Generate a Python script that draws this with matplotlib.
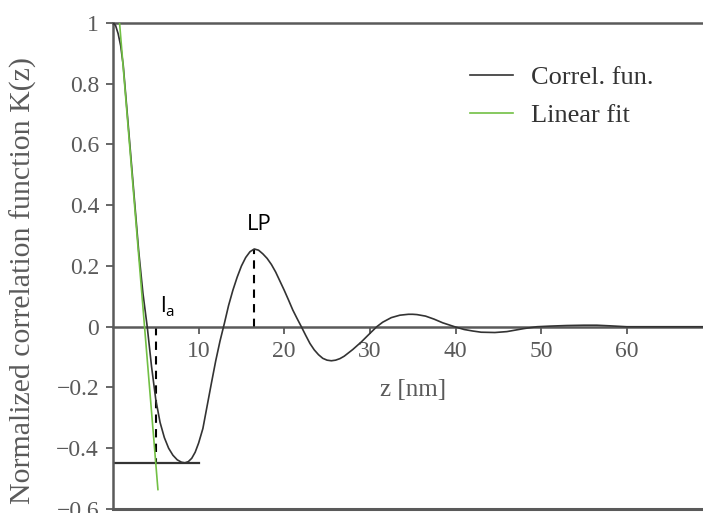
import matplotlib.pyplot as plt

# Normalized correlation function K(z)
z_corr = [0, 0.3, 0.6, 0.9, 1.2, 1.6, 2.0, 2.5, 3.0, 3.5, 4.0, 4.5, 5.0, 5.5,
          6.0, 6.5, 7.0, 7.5, 8.0, 8.4, 8.8, 9.2, 9.6, 10.0, 10.5, 11.0, 11.5,
          12.0, 12.5, 13.0, 13.5, 14.0, 14.5, 15.0, 15.5, 16.0, 16.5, 17.0,
          17.5, 18.0, 18.5, 19.0, 19.5, 20.0, 20.5, 21.0, 21.5, 22.0, 22.5,
          23.0, 23.5, 24.0, 24.5, 25.0, 25.5, 26.0, 26.5, 27.0, 28.0, 29.0,
          30.0, 30.8, 31.5, 32.5, 33.5, 34.5, 35.0, 35.5, 36.5, 37.5, 38.5,
          39.9, 41.0, 42.0, 43.0, 44.6, 46.0, 47.0, 48.0, 49.5, 51.0, 53.0,
          55.0, 56.5, 58.0, 60.0, 63.0, 69.0]
k_corr = [1.0, 0.992, 0.965, 0.925, 0.86, 0.725, 0.59, 0.42, 0.25, 0.11, 0.0,
          -0.13, -0.24, -0.315, -0.365, -0.4, -0.423, -0.438, -0.446, -0.448,
          -0.444, -0.433, -0.413, -0.383, -0.335, -0.26, -0.185, -0.112, -0.047,
          0.01, 0.07, 0.12, 0.163, 0.2, 0.228, 0.247, 0.256, 0.252, 0.24,
          0.225, 0.205, 0.18, 0.15, 0.12, 0.088, 0.055, 0.027, 0.0, -0.028,
          -0.055, -0.076, -0.092, -0.104, -0.11, -0.112, -0.11, -0.105, -0.097,
          -0.075, -0.05, -0.022, 0.0, 0.015, 0.03, 0.038, 0.041, 0.041, 0.04,
          0.035, 0.025, 0.013, 0.0, -0.009, -0.014, -0.018, -0.019, -0.016,
          -0.011, -0.006, 0.0, 0.002, 0.004, 0.005, 0.005, 0.003, 0.0, 0.0, 0.0]

# linear fit of the initial decay
z_fit = [0.77, 5.25]
k_fit = [1.0, -0.536]

# markers: correlation length l_a, first minimum, long period LP
z_la = 5.06
k_min = -0.447
z_lp = 16.5
k_lp = 0.256

x_ticks = [10, 20, 30, 40, 50, 60]
y_ticks = [1, 0.8, 0.6, 0.4, 0.2, 0, -0.2, -0.4, -0.6]
y_labels = ["1", "0.8", "0.6", "0.4", "0.2", "0", "\u22120.2", "\u22120.4", "\u22120.6"]

serif = "Liberation Serif"
grey = "#5a5a5a"

fig = plt.figure(figsize=(7.03, 5.13), dpi=100)
ax = fig.add_axes([0.1607, 0.0078, 0.8393, 0.9474])

ax.plot(z_corr, k_corr, color="#333333", lw=1.2, label="Correl. fun.",
        solid_joinstyle="round", zorder=3)
ax.plot(z_fit, k_fit, color="#72c044", lw=1.2, label="Linear fit", zorder=4)

ax.plot([z_la, z_la], [0, k_min], color="black", lw=1.5, ls=(0, (4, 3)), zorder=2)
ax.plot([z_lp, z_lp], [0, k_lp], color="black", lw=1.5, ls=(0, (4, 3)), zorder=2)
ax.plot([0, 10], [k_min, k_min], color="#333333", lw=1.6, zorder=2)

ax.set_xlim(0, 68.9)
ax.set_ylim(-0.6, 1)

# x axis runs through zero, frame lines at top and bottom
ax.spines["bottom"].set_position(("data", 0))
ax.spines["right"].set_visible(False)
for side in ["bottom", "left", "top"]:
    ax.spines[side].set_color(grey)
    ax.spines[side].set_linewidth(1.8)
ax.axhline(-0.6, color=grey, lw=2.2, clip_on=False)

ax.set_xticks(x_ticks)
ax.set_yticks(y_ticks)
ax.set_yticklabels(y_labels)
ax.tick_params(axis="both", direction="out", length=5, width=1.3, color=grey,
               labelcolor=grey, labelsize=17)
ax.tick_params(axis="y", pad=5)
ax.tick_params(axis="x", pad=5)
for lab in ax.get_xticklabels() + ax.get_yticklabels():
    lab.set_fontfamily(serif)

ax.set_ylabel("Normalized correlation function K(z)", fontfamily=serif,
              fontsize=21.5, color=grey)
ax.yaxis.set_label_coords(-0.128, 0.47)
ax.text(35.0, -0.207, "z [nm]", fontfamily=serif, fontsize=18, color=grey,
        ha="center", va="center")

ax.text(17.1, 0.335, "LP", fontfamily="Open Sans", fontsize=16, color="black",
        ha="center", va="center")
ax.text(5.45, 0.049, "l", fontfamily="Open Sans", fontsize=16, color="black",
        ha="left", va="baseline")
ax.text(6.15, 0.034, "a", fontfamily="Open Sans", fontsize=11, color="black",
        ha="left", va="baseline")

leg = ax.legend(loc="upper left", bbox_to_anchor=(0.605, 0.912), frameon=False,
                prop={"family": serif, "size": 19}, handlelength=1.65,
                handletextpad=0.65, labelspacing=0.55, borderpad=0,
                borderaxespad=0)
for txt in leg.get_texts():
    txt.set_color("#333333")

fig.savefig("out.png", dpi=100)
